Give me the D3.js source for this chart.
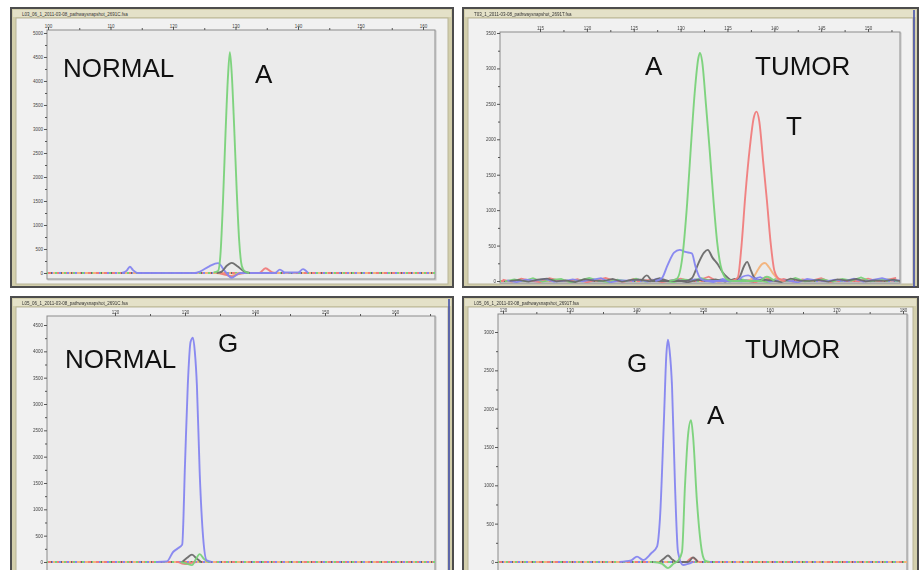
<!DOCTYPE html>
<html>
<head>
<meta charset="utf-8">
<script src="https://cdn.jsdelivr.net/npm/d3@7"></script>
<style>
  body { margin: 0; background: #ffffff; }
  svg { display: block; }
</style>
</head>
<body>
<svg id="chart" width="920" height="570"></svg>
<script>
// ---- data (x in bp, y in RFU) ----
const p1XTicks = [100, 110, 120, 130, 140, 150, 160];
const p1YTicks = [0, 500, 1000, 1500, 2000, 2500, 3000, 3500, 4000, 4500, 5000];
const p2XTicks = [115, 120, 125, 130, 135, 140, 145, 150];
const p2YTicks = [0, 500, 1000, 1500, 2000, 2500, 3000, 3500];
const p3XTicks = [120, 130, 140, 150, 160];
const p3YTicks = [0, 500, 1000, 1500, 2000, 2500, 3000, 3500, 4000, 4500];
const p4XTicks = [120, 130, 140, 150, 160, 170, 180];
const p4YTicks = [0, 500, 1000, 1500, 2000, 2500, 3000];

// panel 1 : NORMAL, A
const p1Green = [[126.5,10],[127.2,40],[127.6,400],[128.0,1500],[128.4,2900],[128.8,4100],[129.1,4600],[129.4,4150],[129.8,3000],[130.2,1700],[130.6,650],[131.0,150],[131.5,30],[132.2,0]];
const p1Blue = [[111.8,0],[112.6,50],[113.1,130],[113.6,60],[114.3,0],[123.5,0],[124.3,30],[125.8,140],[127.2,205],[128.3,40],[129.4,-100],[130.7,0],[136.3,0],[137.1,70],[137.9,10],[140.0,10],[140.8,80],[141.6,0]];
const p1Gray = [[127.0,0],[127.8,30],[128.6,150],[129.4,210],[130.3,140],[131.3,40],[132.3,0]];
const p1Red = [[127.5,0],[128.5,-40],[129.5,-70],[130.5,-20],[131.5,0],[133.8,0],[134.8,100],[135.8,20],[136.5,0]];
const p1Orange = [[127.0,0],[128.3,-30],[129.3,-60],[130.4,-10],[131.4,0]];

// panel 2 : TUMOR, A / T
const p2Green = [[128.8,0],[129.6,30],[130.2,350],[130.7,1100],[131.1,1900],[131.5,2650],[131.9,3150],[132.06,3220],[132.3,3100],[132.7,2500],[133.1,1850],[133.5,1150],[133.9,550],[134.4,150],[135.0,20],[135.6,0],[138.4,0],[139.2,60],[140.0,0]];
const p2Red = [[135.5,0],[136.1,50],[136.5,500],[136.9,1200],[137.4,1900],[137.8,2300],[138.1,2390],[138.4,2250],[138.8,1700],[139.2,1150],[139.6,550],[140.0,150],[140.5,30],[141.2,0]];
const p2Blue = [[127.3,0],[128.0,40],[128.6,220],[129.3,400],[129.9,440],[130.5,410],[131.2,390],[131.6,200],[132.1,40],[132.8,0],[136.0,0],[136.6,60],[137.2,80],[137.8,40],[138.5,0]];
const p2Gray = [[125.8,0],[126.4,80],[127.0,0],[130.5,0],[131.2,40],[131.9,250],[132.5,400],[132.9,440],[133.4,330],[134.0,230],[134.5,120],[135.0,50],[135.6,0],[136.3,60],[136.8,220],[137.1,270],[137.5,150],[137.9,40],[138.5,0]];
const p2Orange = [[137.0,0],[137.7,40],[138.3,170],[138.7,240],[139.0,255],[139.4,200],[139.9,100],[140.3,40],[141.0,0]];
// baseline noise, one value per bp starting at 111
const p2NoiseRed = [20,-10,35,5,-15,40,10,-5,25,-20,15,45,0,-10,30,5,20,-15,10,35,-5,15,60,-10,5,0,10,-20,50,0,30,-10,25,5,40,-15,20,10,-5,35,0,15,45];
const p2NoiseGreen = [-5,25,0,40,-10,15,30,-20,10,45,5,-15,20,0,35,-10,15,5,-20,25,10,40,-5,20,-10,30,5,15,-15,35,0,45,-5,10,25,-10,30,5,50,-5,15,20,0];
const p2NoiseBlue = [10,-15,20,5,30,-10,0,25,-5,15,40,-20,10,5,20,-10,35,0,15,-5,25,10,-15,30,0,-5,20,55,-10,15,5,-20,30,10,-5,20,0,35,-10,15,40,5,10];
const p2NoiseGray = [0,15,-10,20,35,-5,10,-15,25,5,0,30,-10,15,20,-5,40,0,10,-20,15,5,25,-10,30,0,-5,20,10,-15,35,5,0,15,-10,25,5,30,-5,10,0,20,-10];

// panel 3 : NORMAL, G
const p3Blue = [[126.0,0],[127.4,10],[128.3,190],[129.0,260],[129.6,330],[130.0,1850],[130.4,3360],[130.8,4180],[131.14,4260],[131.4,4000],[131.7,3360],[132.1,1700],[132.6,450],[133.1,30],[133.8,0]];
const p3Gray = [[129.6,0],[130.3,80],[131.0,140],[131.7,60],[132.3,0]];
const p3Green = [[129.4,0],[130.2,-30],[131.0,-60],[131.5,40],[132.1,150],[132.7,60],[133.3,0]];
const p3Red = [[129.0,0],[130.0,-40],[130.8,-20],[131.6,0]];

// panel 4 : TUMOR, G / A
const p4Blue = [[137.5,0],[139.2,20],[140.1,70],[141.0,25],[142.2,110],[143.1,200],[143.55,575],[144.15,1880],[144.5,2700],[144.75,2900],[145.0,2750],[145.35,2300],[145.8,1000],[146.25,130],[147.0,-40],[148.5,0]];
const p4Green = [[142.5,0],[143.8,-20],[144.75,-80],[145.6,-20],[146.3,20],[146.85,130],[147.3,1000],[147.75,1650],[148.2,1850],[148.5,1650],[149.1,780],[149.85,130],[150.3,20],[151.0,0]];
const p4Gray = [[143.5,0],[144.2,50],[144.75,85],[145.3,40],[146.0,0],[147.8,0],[148.5,60],[149.2,0]];
const p4Red = [[147.6,0],[148.4,55],[149.3,0]];

// ---- styles ----
const colors = { green: "#79d279", red: "#f07c7c", blue: "#8585f0", gray: "#6a6a6a", orange: "#f3b27a" };
const font = "'Liberation Sans', Arial, sans-serif";

const panels = [
  {
    frame: [11, 8, 453, 287], plot: [47, 30, 435, 279], blueEdge: false,
    xDomain: [99.84, 161.92], yDomain: [-125, 5062],
    xTicks: p1XTicks, yTicks: p1YTicks,
    title: "L03_06_1_2011-03-08_pathwaysnapshot_2691C.fsa",
    traces: [["orange", p1Orange], ["red", p1Red], ["blue", p1Blue], ["gray", p1Gray], ["green", p1Green]],
    noise: [],
    labels: [["NORMAL", 63, 77], ["A", 255, 83]]
  },
  {
    frame: [463, 8, 918, 287], plot: [500, 32, 900, 283], blueEdge: true,
    xDomain: [110.73, 153.41], yDomain: [-28, 3514],
    xTicks: p2XTicks, yTicks: p2YTicks,
    title: "T03_1_2011-03-08_pathwaysnapshot_2691T.fsa",
    traces: [["orange", p2Orange], ["gray", p2Gray], ["blue", p2Blue], ["red", p2Red], ["green", p2Green]],
    noise: [["red", p2NoiseRed, 0], ["green", p2NoiseGreen, 0.25], ["blue", p2NoiseBlue, 0.5], ["gray", p2NoiseGray, 0.75]],
    labels: [["A", 645, 75], ["TUMOR", 755, 75], ["T", 786, 135]]
  },
  {
    frame: [11, 297, 453, 590], plot: [47, 316, 435, 574], blueEdge: true,
    xDomain: [110.29, 165.71], yDomain: [-228, 4671],
    xTicks: p3XTicks, yTicks: p3YTicks,
    title: "L05_06_1_2011-03-08_pathwaysnapshot_2691C.fsa",
    traces: [["red", p3Red], ["gray", p3Gray], ["green", p3Green], ["blue", p3Blue]],
    noise: [],
    labels: [["NORMAL", 65, 368], ["G", 218, 352]]
  },
  {
    frame: [463, 297, 918, 590], plot: [498, 314, 907, 574], blueEdge: false,
    xDomain: [119.25, 180.6], yDomain: [-157, 3235],
    xTicks: p4XTicks, yTicks: p4YTicks,
    title: "L05_06_1_2011-03-08_pathwaysnapshot_2691T.fsa",
    traces: [["red", p4Red], ["gray", p4Gray], ["blue", p4Blue], ["green", p4Green]],
    noise: [],
    labels: [["G", 627, 372], ["TUMOR", 745, 358], ["A", 707, 424]]
  }
];

const svg = d3.select("#chart");

// soft look of the scanned traces
svg.append("defs").append("filter").attr("id", "soft")
  .append("feGaussianBlur").attr("stdDeviation", 0.35);

function mids(t) {
  const m = [];
  for (let i = 0; i < t.length - 1; i++) m.push((t[i] + t[i + 1]) / 2);
  m.push(t[t.length - 1] + (t[1] - t[0]) / 2);
  return m;
}

panels.forEach((p, pi) => {
  const [fx0, fy0, fx1, fy1] = p.frame;
  const [px0, py0, px1, py1] = p.plot;
  const g = svg.append("g");

  // window frame
  g.append("rect").attr("x", fx0).attr("y", fy0).attr("width", fx1 - fx0).attr("height", fy1 - fy0)
    .attr("fill", "#d3cfac").attr("stroke", "#4d4d4d").attr("stroke-width", 2);
  g.append("rect").attr("x", fx0 + 5).attr("y", fy0 + 10).attr("width", fx1 - fx0 - 10).attr("height", fy1 - fy0 - 13)
    .attr("fill", "#f1f1f1").attr("stroke", "#b9b597").attr("stroke-width", 1);
  g.append("rect").attr("x", fx0 + 2).attr("y", fy0 + 2).attr("width", fx1 - fx0 - 4).attr("height", 7)
    .attr("fill", "#e4e1c8");
  if (p.blueEdge) {
    g.append("line").attr("x1", fx1 - 4).attr("x2", fx1 - 4).attr("y1", fy0 + 2).attr("y2", fy1)
      .attr("stroke", "#3a47a8").attr("stroke-width", 1.5);
  }
  g.append("text").attr("x", fx0 + 11).attr("y", fy0 + 8)
    .attr("font-family", font).attr("font-size", 4.5).attr("fill", "#333")
    .text(p.title);

  // plot area
  g.append("rect").attr("x", px0 + 1).attr("y", py0 + 1).attr("width", px1 - px0).attr("height", py1 - py0)
    .attr("fill", "none").attr("stroke", "#c4c4c4").attr("stroke-width", 1);
  g.append("rect").attr("x", px0).attr("y", py0).attr("width", px1 - px0).attr("height", py1 - py0)
    .attr("fill", "#ebebeb").attr("stroke", "#8c8c8c").attr("stroke-width", 1);

  const x = d3.scaleLinear().domain(p.xDomain).range([px0, px1]);
  const y = d3.scaleLinear().domain(p.yDomain).range([py1, py0]);

  // axes
  const axTop = g.append("g").attr("transform", `translate(0,${py0})`)
    .call(d3.axisTop(x).tickValues(p.xTicks).tickSize(3).tickFormat(d3.format("d")));
  const axTopMinor = g.append("g").attr("transform", `translate(0,${py0})`)
    .call(d3.axisTop(x).tickValues(mids(p.xTicks).filter(v => v < p.xDomain[1])).tickSize(2).tickFormat(""));
  const axLeft = g.append("g").attr("transform", `translate(${px0},0)`)
    .call(d3.axisLeft(y).tickValues(p.yTicks).tickSize(3).tickFormat(d3.format("d")));
  const axLeftMinor = g.append("g").attr("transform", `translate(${px0},0)`)
    .call(d3.axisLeft(y).tickValues(mids(p.yTicks).filter(v => v < p.yDomain[1])).tickSize(2).tickFormat(""));
  [axTop, axTopMinor, axLeft, axLeftMinor].forEach(a => {
    a.select(".domain").remove();
    a.selectAll("line").attr("stroke", "#555");
    a.selectAll("text").attr("font-family", font).attr("font-size", 4.5).attr("fill", "#444");
  });
  axTop.selectAll("text").attr("dy", "0").attr("y", -2);
  axLeft.selectAll("text").attr("x", -4);

  // clip traces to plot
  const clipId = "clip" + pi;
  svg.append("clipPath").attr("id", clipId).append("rect")
    .attr("x", px0).attr("y", py0).attr("width", px1 - px0).attr("height", py1 - py0);
  const traces = g.append("g").attr("clip-path", `url(#${clipId})`)
    .append("g").attr("filter", "url(#soft)");

  // dashed multicolour baseline
  const base = [["red", "5 3", 0], ["orange", "3 5", 2], ["blue", "2 6", 4], ["green", "2 7", 1], ["gray", "1 9", 6]];
  base.forEach(([c, dash, off]) => {
    traces.append("line")
      .attr("x1", x(p.xDomain[0])).attr("x2", x(p.xDomain[1]))
      .attr("y1", y(0)).attr("y2", y(0))
      .attr("stroke", colors[c]).attr("stroke-width", 2)
      .attr("stroke-dasharray", dash).attr("stroke-dashoffset", off);
  });

  // baseline noise
  p.noise.forEach(([c, vals, off]) => {
    const line = d3.line().x((d, i) => x(111 + off + i)).y(d => y(d));
    traces.append("path").attr("d", line(vals))
      .attr("fill", "none").attr("stroke", colors[c]).attr("stroke-width", 1.7).attr("opacity", 0.95);
  });

  // peaks
  const line = d3.line().x(d => x(d[0])).y(d => y(d[1])).curve(d3.curveMonotoneX);
  p.traces.forEach(([c, pts]) => {
    traces.append("path").attr("d", line(pts))
      .attr("fill", "none").attr("stroke", colors[c]).attr("stroke-width", 1.9)
      .attr("stroke-linejoin", "round").attr("opacity", 0.95);
  });

  // annotations
  p.labels.forEach(([t, lx, ly]) => {
    g.append("text").attr("x", lx).attr("y", ly)
      .attr("font-family", font).attr("font-size", 26).attr("fill", "#111")
      .text(t);
  });
});
</script>
</body>
</html>
